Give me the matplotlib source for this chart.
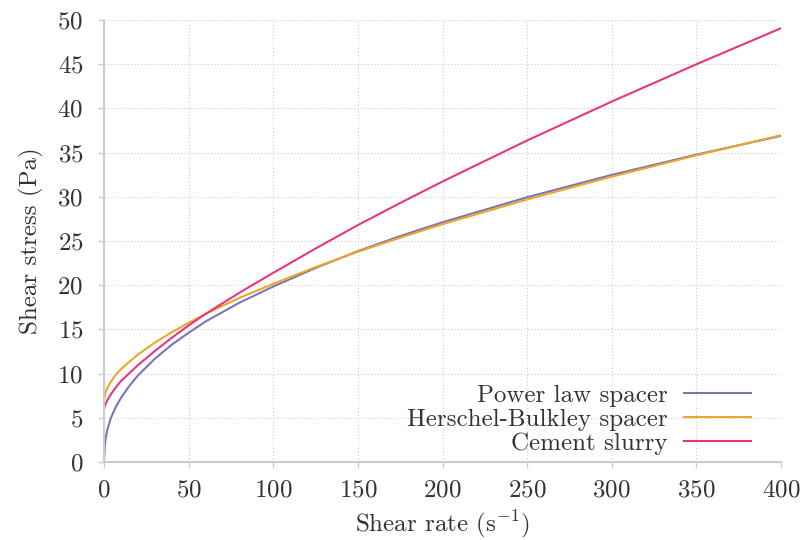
import matplotlib.pyplot as plt

plt.rcParams['font.family'] = ['cmr10', 'DejaVu Serif']
plt.rcParams['mathtext.fontset'] = 'cm'
plt.rcParams['axes.formatter.use_mathtext'] = True

# shear rate (1/s) and stress (Pa) for each fluid
shear_rate = [0, 0.5, 1, 2, 4, 7, 10, 15, 20, 30, 40, 50, 60, 80, 100,
              125, 150, 175, 200, 250, 300, 350, 400]
power_law = [0.0, 2.00, 2.70, 3.70, 4.95, 6.25, 7.25, 8.62, 9.78, 11.68, 13.27,
             14.62, 15.89, 18.02, 19.85, 21.95, 23.85, 25.56, 27.12, 29.95,
             32.48, 34.77, 36.89]
herschel_bulkley = [6.85, 7.55, 7.90, 8.40, 9.05, 9.90, 10.50, 11.35, 12.15, 13.50,
                    14.68, 15.75, 16.75, 18.57, 20.15, 22.05, 23.78, 25.38, 26.90,
                    29.70, 32.28, 34.69, 36.96]
cement = [6.0, 6.35, 6.60, 7.00, 7.65, 8.45, 9.15, 10.05, 10.95, 12.55, 14.05,
          15.45, 16.75, 19.15, 21.40, 24.15, 26.80, 29.30, 31.73, 36.37, 40.77,
          44.99, 49.07]

fig = plt.figure(figsize=(8.02, 5.40), dpi=100)
ax = fig.add_axes([0.1297, 0.1444, 0.8441, 0.8186])

ax.plot(shear_rate, power_law, color='#7e73b8', lw=1.5, label='Power law spacer')
ax.plot(shear_rate, herschel_bulkley, color='#e8a82a', lw=1.5, label='Herschel-Bulkley spacer')
ax.plot(shear_rate, cement, color='#e8357f', lw=1.5, label='Cement slurry')

ax.set_xlim(0, 400)
ax.set_ylim(0, 50)
ax.set_xticks(range(0, 401, 50))
ax.set_yticks(range(0, 51, 5))
ax.grid(True, linestyle=(0, (1, 2)), color='#cccccc', lw=0.8)

for side in ['top', 'right']:
    ax.spines[side].set_visible(False)
for side in ['left', 'bottom']:
    ax.spines[side].set_color('#cccccc')
    ax.spines[side].set_linewidth(1.5)
ax.tick_params(colors='#cccccc', labelcolor='#333333', labelsize=18, length=4.3, width=1)
ax.tick_params(axis='y', pad=10.5)
ax.tick_params(axis='x', pad=8)

ax.set_xlabel('Shear rate (s$^{-1}$)', fontsize=18, color='#333333', labelpad=5)
ax.set_ylabel('Shear stress (Pa)', fontsize=18, color='#333333', labelpad=10)

ax.legend(loc='lower right', frameon=False, markerfirst=False, fontsize=18,
          handlelength=2.7, handletextpad=0.65, labelspacing=0.05,
          borderpad=0, borderaxespad=0, bbox_to_anchor=(0.956, 0.017),
          labelcolor='#333333')

fig.savefig('out.png', dpi=100)
